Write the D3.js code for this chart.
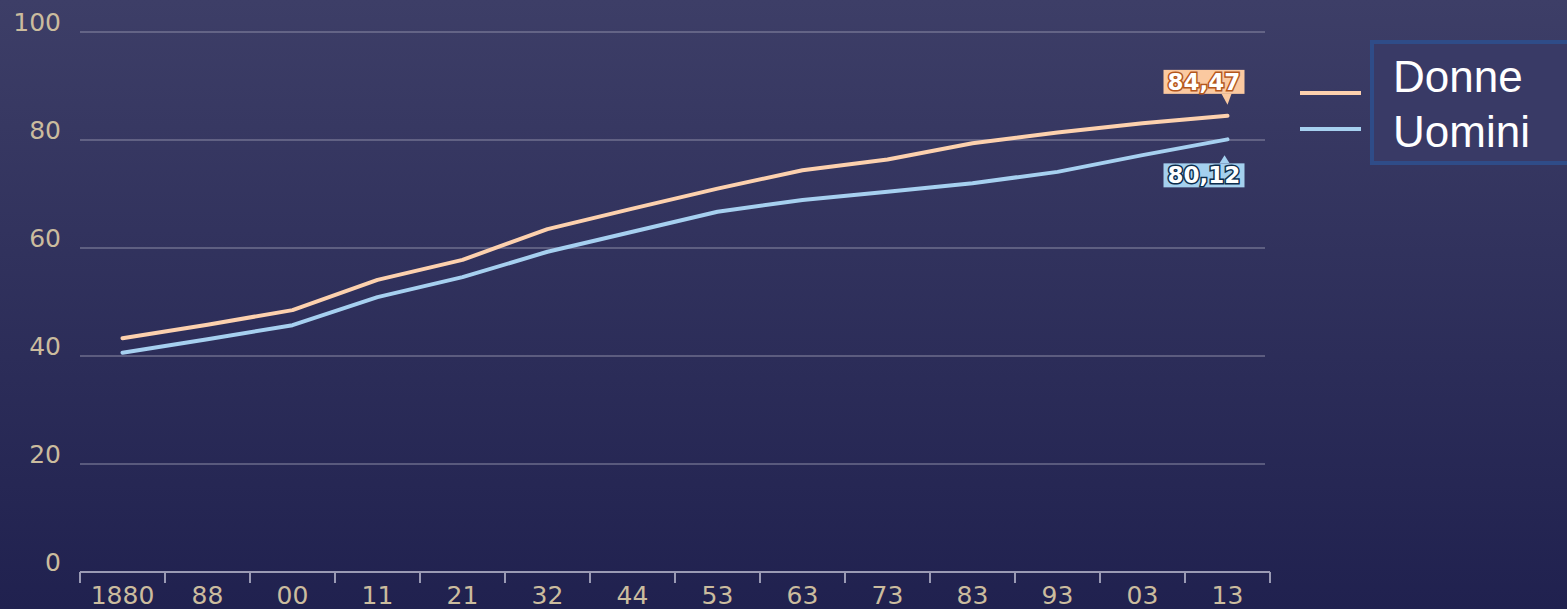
<!DOCTYPE html>
<html>
<head>
<meta charset="utf-8">
<script src="https://d3js.org/d3.v7.min.js"></script>
<style>
  html, body { margin: 0; padding: 0; background: #2b2c58; overflow: hidden; }
</style>
</head>
<body>
<div id="chart"></div>
<script>
// data
var years = ["1880", "88", "00", "11", "21", "32", "44", "53", "63", "73", "83", "93", "03", "13"];
var donne = [43.3, 45.8, 48.5, 54.1, 57.8, 63.5, 67.3, 71.0, 74.4, 76.4, 79.4, 81.4, 83.1, 84.47];
var uomini = [40.6, 43.1, 45.7, 50.9, 54.6, 59.3, 63.0, 66.7, 68.9, 70.4, 72.0, 74.1, 77.2, 80.12];
var yTicks = [0, 20, 40, 60, 80, 100];
var seriesNames = ["Donne", "Uomini"];

var width = 1567, height = 609;
var labelColor = "#cbbc9e";
var colDonne = "#fdd1ae", colUomini = "#a6d0f0";

var svg = d3.select("#chart").append("svg")
  .attr("width", width)
  .attr("height", height);

// background gradient
var grad = svg.append("defs").append("linearGradient")
  .attr("id", "bg").attr("x1", 0).attr("y1", 0).attr("x2", 0).attr("y2", 1);
grad.append("stop").attr("offset", "0%").attr("stop-color", "#3d3e67");
grad.append("stop").attr("offset", "100%").attr("stop-color", "#20214f");
svg.append("rect").attr("width", width).attr("height", height).attr("fill", "url(#bg)");

var x = d3.scaleBand().domain(years).range([80, 1270]).padding(0);
var y = d3.scaleLinear().domain([0, 100]).range([572, 32]);

// grid lines
svg.append("g").selectAll("line")
  .data(yTicks.filter(d => d > 0))
  .join("line")
    .attr("x1", 80).attr("x2", 1265)
    .attr("y1", d => y(d)).attr("y2", d => y(d))
    .attr("stroke", "#8c8ca6").attr("stroke-width", 1.2);

// y labels
svg.append("g").selectAll("text")
  .data(yTicks)
  .join("text")
    .attr("x", 61).attr("y", d => y(d) - 1.5)
    .attr("text-anchor", "end")
    .attr("fill", labelColor)
    .style("font-family", "DejaVu Sans")
    .style("font-size", "25px")
    .text(d => d);

// x axis
var xAxis = svg.append("g");
xAxis.append("line")
  .attr("x1", 80).attr("x2", 1270)
  .attr("y1", y(0)).attr("y2", y(0))
  .attr("stroke", "#9a9ab4").attr("stroke-width", 2);
var tickPos = years.map(d => x(d)).concat([x.range()[1]]);
xAxis.selectAll(".tk")
  .data(tickPos)
  .join("line")
    .attr("class", "tk")
    .attr("x1", d => d).attr("x2", d => d)
    .attr("y1", y(0)).attr("y2", y(0) + 11)
    .attr("stroke", "#9a9ab4").attr("stroke-width", 2);
xAxis.selectAll("text")
  .data(years)
  .join("text")
    .attr("x", d => x(d) + x.bandwidth() / 2)
    .attr("y", 604)
    .attr("text-anchor", "middle")
    .attr("fill", labelColor)
    .style("font-family", "DejaVu Sans")
    .style("font-size", "25px")
    .text(d => d);

// lines
var line = d3.line()
  .x((d, i) => x(years[i]) + x.bandwidth() / 2)
  .y(d => y(d));

svg.append("path").datum(donne)
  .attr("d", line).attr("fill", "none")
  .attr("stroke", colDonne).attr("stroke-width", 4)
  .attr("stroke-linejoin", "round").attr("stroke-linecap", "round");
svg.append("path").datum(uomini)
  .attr("d", line).attr("fill", "none")
  .attr("stroke", colUomini).attr("stroke-width", 4)
  .attr("stroke-linejoin", "round").attr("stroke-linecap", "round");

// end value callouts
var last = years.length - 1;
var px = x(years[last]) + x.bandwidth() / 2;

function callout(val, above, bg, outline) {
  var py = y(val);
  var g = svg.append("g");
  var bx = px - 64, bw = 81, bh = 24;
  var by, tri;
  if (above) {
    by = py - 46;
    tri = [[px - 6, by + bh], [px + 4, by + bh], [px, py - 11]];
  } else {
    by = py + 24;
    tri = [[px - 8, by], [px + 2, by], [px - 3, py + 16]];
  }
  g.append("rect").attr("x", bx).attr("y", by).attr("width", bw).attr("height", bh)
    .attr("fill", bg);
  g.append("path").attr("d", "M" + tri.join("L") + "Z").attr("fill", bg);
  g.append("text")
    .attr("x", bx + bw / 2).attr("y", by + bh / 2 + 8)
    .attr("text-anchor", "middle")
    .attr("fill", "#ffffff")
    .attr("stroke", outline).attr("stroke-width", 3)
    .attr("paint-order", "stroke")
    .style("font-family", "DejaVu Sans")
    .style("font-weight", "bold")
    .style("font-size", "23px")
    .text(String(val).replace(".", ","));
}
callout(donne[last], true, "#fbc9a0", "#b4561c");
callout(uomini[last], false, "#a4d0ee", "#0c2c4c");

// legend
var legend = svg.append("g");
legend.append("rect")
  .attr("x", 1372).attr("y", 42).attr("width", 220).attr("height", 121)
  .attr("fill", "#393a66")
  .attr("stroke", "#2f4c88").attr("stroke-width", 4);
var legCols = [colDonne, colUomini];
var legLineY = [93, 129];
var legTextY = [92, 147];
legend.selectAll("line")
  .data(seriesNames)
  .join("line")
    .attr("x1", 1300).attr("x2", 1361)
    .attr("y1", (d, i) => legLineY[i]).attr("y2", (d, i) => legLineY[i])
    .attr("stroke", (d, i) => legCols[i]).attr("stroke-width", 4);
legend.selectAll("text")
  .data(seriesNames)
  .join("text")
    .attr("x", 1393)
    .attr("y", (d, i) => legTextY[i])
    .attr("fill", "#ffffff")
    .style("font-family", "Liberation Sans")
    .style("font-size", "44px")
    .text(d => d);
</script>
</body>
</html>
